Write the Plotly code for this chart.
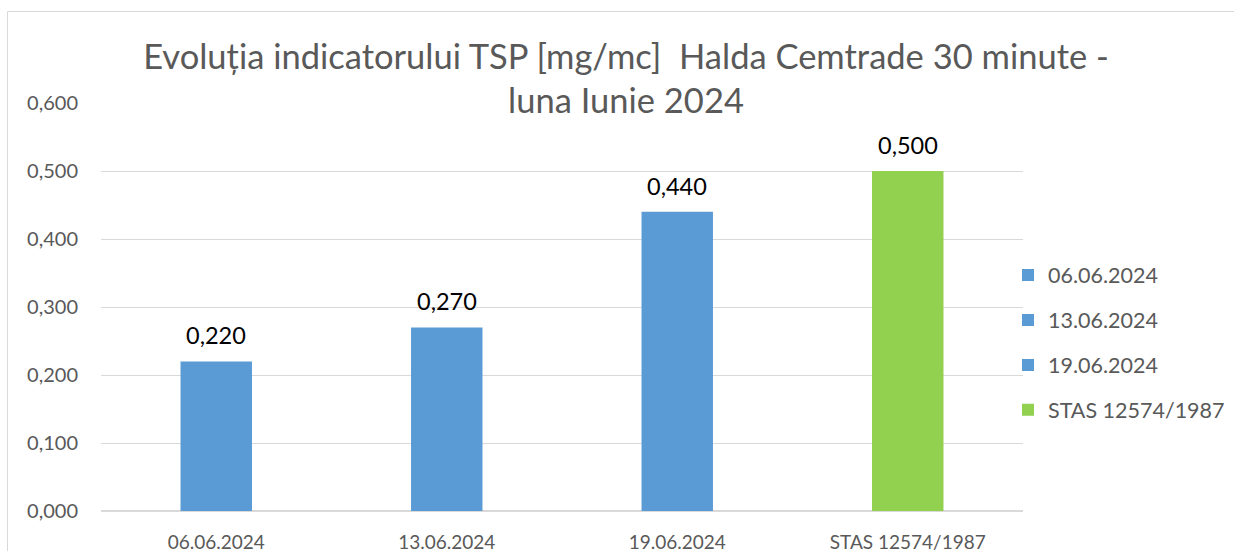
import plotly.graph_objects as go

categories = ["06.06.2024", "13.06.2024", "19.06.2024", "STAS 12574/1987"]
values = [0.220, 0.270, 0.440, 0.500]
colors = ["#5b9bd5", "#5b9bd5", "#5b9bd5", "#92d050"]
y_ticks = [0.0, 0.1, 0.2, 0.3, 0.4, 0.5, 0.6]
title_text = "Evoluția indicatorului TSP [mg/mc]  Halda Cemtrade 30 minute -<br>luna Iunie 2024"

FONT = "Lato"
W, H = 1234, 551
ML, MR, MT, MB = 101, 211, 103, 40

fig = go.Figure()
for i, (c, v, col) in enumerate(zip(categories, values, colors)):
    fig.add_trace(go.Bar(
        x=[c], y=[v], name=c, marker=dict(color=col, line=dict(width=0)),
        width=0.31, legendgroup=c, hoverinfo="x+y",
    ))
    fig.add_annotation(
        x=c, y=v, text=f"{v:.3f}".replace(".", ","), showarrow=False,
        yanchor="bottom", yshift=10, font=dict(family=FONT, size=23.5, color="#000000"),
    )

pw = W - ML - MR
ph = H - MT - MB
fig.add_shape(
    type="rect", xref="paper", yref="paper",
    x0=(7.5 - ML) / pw, x1=(1300 - ML) / pw,
    y0=-(600 - (H - MB)) / ph, y1=((H - MB) - 11.5) / ph,
    line=dict(color="#d9d9d9", width=1), fillcolor="rgba(0,0,0,0)", layer="below",
)

fig.update_layout(
    width=W, height=H,
    margin=dict(l=ML, r=MR, t=MT, b=MB, pad=0, autoexpand=False),
    separators=",.",
    barmode="overlay",
    paper_bgcolor="white", plot_bgcolor="white",
    title=dict(text=title_text, x=626 / W, xanchor="center", y=1 - 68.5 / H, yanchor="middle",
               font=dict(family=FONT, size=34.5, color="#595959")),
    font=dict(family=FONT, color="#595959"),
    xaxis=dict(type="category", categoryorder="array", categoryarray=categories,
               showgrid=False, showline=False, ticks="", tickfont=dict(size=19, color="#595959"),
               ticklabelstandoff=18, zeroline=False, automargin=False),
    yaxis=dict(range=[0, 0.6], tickvals=y_ticks, tickformat=".3f",
               showgrid=True, gridcolor="#d9d9d9", gridwidth=1, zeroline=True,
               zerolinecolor="#d9d9d9", zerolinewidth=1.5, showline=False, ticks="",
               ticklabelstandoff=22, tickfont=dict(size=20, color="#595959"), automargin=False),
    legend=dict(xref="container", yref="container", x=1008 / W, y=1 - 342.5 / H,
                xanchor="left", yanchor="middle",
                font=dict(family=FONT, size=21.5, color="#595959"),
                tracegroupgap=14, traceorder="grouped", itemwidth=30,
                bgcolor="rgba(0,0,0,0)"),
    showlegend=True,
)

fig.write_html("out.html", config={"displayModeBar": False},
               post_script="document.body.style.margin='0';document.body.style.overflow='hidden';")
